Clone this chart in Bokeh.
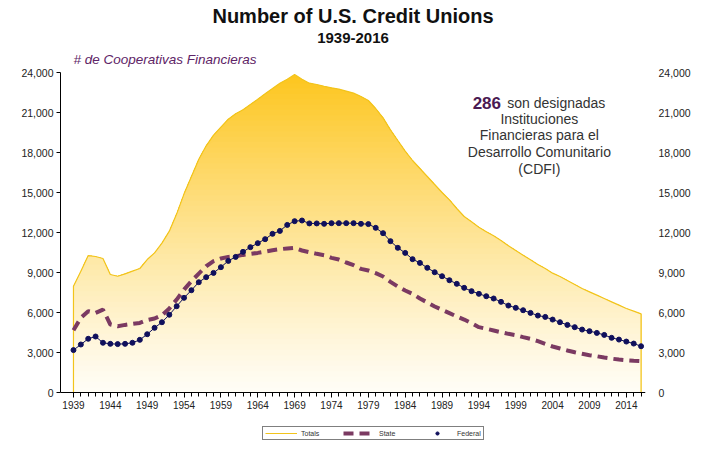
import numpy as np
from bokeh.plotting import figure
from bokeh.models import (Range1d, LinearAxis, FixedTicker, NumeralTickFormatter,
                          Title, Label, Legend, LegendItem)
from bokeh.embed import file_html
from bokeh.resources import INLINE

years = list(range(1939, 2017))

totals = [7970, 9100, 10270, 10200, 10050, 8850, 8720, 8900, 9100, 9300,
          9970, 10470, 11200, 12100, 13400, 14900, 16200, 17500, 18500, 19300,
          19900, 20500, 20900, 21200, 21600, 22000, 22400, 22800, 23200, 23500,
          23850, 23500, 23200, 23100, 22970, 22850, 22750, 22600, 22450, 22200,
          21900, 21300, 20600, 19700, 18900, 18100, 17400, 16800, 16200, 15600,
          15000, 14450, 13800, 13200, 12800, 12400, 12050, 11750, 11400, 11000,
          10650, 10300, 9950, 9600, 9300, 8950, 8700, 8400, 8100, 7800,
          7550, 7300, 7050, 6800, 6550, 6300, 6100, 5900]

state = [4670, 5600, 6100, 5970, 6220, 5100, 4970, 5070, 5150, 5220,
         5430, 5550, 5800, 6300, 6970, 7720, 8350, 8920, 9470, 9850,
         10050, 10170, 10220, 10320, 10400, 10470, 10570, 10670, 10750, 10800,
         10850, 10650, 10520, 10400, 10300, 10100, 9970, 9750, 9550, 9270,
         9150, 8950, 8700, 8300, 7950, 7650, 7400, 7050, 6750, 6450,
         6200, 5950, 5700, 5470, 5200, 4900, 4780, 4650, 4520, 4400,
         4300, 4150, 4020, 3850, 3650, 3450, 3300, 3150, 3020, 2900,
         2800, 2720, 2620, 2540, 2470, 2420, 2380, 2350]

federal = [3180, 3600, 4030, 4200, 3730, 3650, 3630, 3650, 3730, 3950,
           4370, 4850, 5270, 5830, 6470, 7100, 7670, 8270, 8650, 8970,
           9400, 9870, 10170, 10550, 10900, 11200, 11500, 11900, 12120, 12570,
           12850, 12900, 12680, 12680, 12650, 12700, 12700, 12700, 12700, 12650,
           12630, 12350, 11950, 11350, 10850, 10470, 10000, 9720, 9350, 9020,
           8720, 8420, 8150, 7850, 7600, 7400, 7220, 7050, 6800, 6520,
           6350, 6170, 5970, 5770, 5670, 5470, 5270, 5070, 4900, 4720,
           4600, 4470, 4320, 4100, 3970, 3820, 3670, 3470]

x_ticks = [1939, 1944, 1949, 1954, 1959, 1964, 1969, 1974, 1979, 1984,
           1989, 1994, 1999, 2004, 2009, 2014]
y_ticks = [0, 3000, 6000, 9000, 12000, 15000, 18000, 21000, 24000]

title_text = "Number of U.S. Credit Unions"
subtitle_text = "1939-2016"
ylabel_text = "# de Cooperativas Financieras"
note_num = "286"
note_first = "son designadas"
note_lines = ["Instituciones", "Financieras para el", "Desarrollo Comunitario", "(CDFI)"]

FONT = "Liberation Sans"

# the frame reaches below zero so the legend under the axis stays inside it
p = figure(frame_width=585, frame_height=372, output_backend="svg",
           toolbar_location=None,
           x_range=Range1d(1937.24, 2016.6), y_range=Range1d(-3900, 24000),
           min_border_left=60, min_border_right=59, min_border_top=0,
           min_border_bottom=0, outline_line_color=None)
p.grid.visible = False

# titles: p.title outermost; first added sits closest to the plot
p.title.text = title_text
p.title.align = "center"
p.title.text_font = FONT
p.title.text_font_style = "bold"
p.title.text_font_size = "20px"
p.title.text_color = "#111111"
p.title.standoff = 5
p.add_layout(Title(text=ylabel_text, align="left", text_font=FONT,
                   text_font_style="italic", text_font_size="13.5px",
                   text_color="#5e2466", offset=13, standoff=12), "above")
p.add_layout(Title(text=subtitle_text, align="center", text_font=FONT,
                   text_font_style="bold", text_font_size="15px",
                   text_color="#111111", standoff=2), "above")

# gradient fill under totals
yrs = np.array(years, dtype=float)
tot = np.array(totals, dtype=float)
top_c = np.array([253, 197, 28])
bot_c = np.array([255, 253, 246])
N = 60
step = 24000 / N
for k in range(N - 1, -1, -1):
    t = ((k + 0.5) / N) ** 1.15
    c = bot_c + (top_c - bot_c) * t
    col = "#%02x%02x%02x" % tuple(int(round(v)) for v in c)
    p.varea(x=yrs, y1=np.zeros_like(tot), y2=np.minimum(tot, (k + 1) * step),
            fill_color=col, fill_alpha=1.0)

tot_line = p.line([years[0]] + years + [years[-1]], [0] + totals + [0],
                  line_color="#f2c41c", line_width=1.2)

state_line = p.line(years, state, line_color="#7b3a62", line_width=4,
                    line_dash="10 6")

fed_line = p.line(years, federal, line_color="#10105c", line_width=1)
fed_pts = p.scatter(years, federal, size=5, marker="circle",
                    fill_color="#10105c", line_color="#10105c")

# axes
p.xaxis.fixed_location = 0
p.xaxis.ticker = FixedTicker(ticks=x_ticks, minor_ticks=years)
p.xaxis.axis_line_color = "black"
p.xaxis.major_tick_line_color = "black"
p.xaxis.minor_tick_line_color = "black"
p.xaxis.major_tick_out = 5
p.xaxis.major_tick_in = 0
p.xaxis.minor_tick_out = 4
p.xaxis.minor_tick_in = 0
p.xaxis.major_label_standoff = 3
p.xaxis.major_label_text_font = FONT
p.xaxis.major_label_text_font_size = "10px"
p.xaxis.major_label_text_color = "#222222"

p.yaxis.ticker = FixedTicker(ticks=y_ticks)
p.yaxis.bounds = (0, 24000)
p.yaxis.formatter = NumeralTickFormatter(format="0,0")
p.yaxis.axis_line_color = "black"
p.yaxis.major_tick_out = 4
p.yaxis.major_tick_in = 0
p.yaxis.minor_tick_line_color = None
p.yaxis.major_label_standoff = 3
p.yaxis.major_label_text_font = FONT
p.yaxis.major_label_text_font_size = "10.5px"
p.yaxis.major_label_text_color = "#222222"

ry = LinearAxis(ticker=FixedTicker(ticks=y_ticks), bounds=(0, 24000),
                formatter=NumeralTickFormatter(format="0,0"))
ry.axis_line_color = None
ry.major_tick_line_color = None
ry.minor_tick_line_color = None
ry.major_label_standoff = 7
ry.major_label_text_font = FONT
ry.major_label_text_font_size = "10.5px"
ry.major_label_text_color = "#222222"
p.add_layout(ry, "right")

# annotation
p.add_layout(Label(x=1993.15, y=21728, text=note_num, text_font=FONT,
                   text_font_style="bold", text_font_size="17px",
                   text_color="#4a1a52", text_baseline="alphabetic"))
p.add_layout(Label(x=1997.85, y=21728, text=note_first, text_font=FONT,
                   text_font_size="14px", text_color="#333333",
                   text_baseline="alphabetic"))
for i, ln in enumerate(note_lines):
    p.add_layout(Label(x=2002.2, y=20528 - i * 1250, text=ln, text_font=FONT,
                       text_font_size="14px", text_color="#333333",
                       text_align="center", text_baseline="alphabetic"))

legend = Legend(items=[LegendItem(label="Totals", renderers=[tot_line]),
                       LegendItem(label="State", renderers=[state_line]),
                       LegendItem(label="Federal", renderers=[fed_pts])],
                orientation="horizontal", location=(202, 4),
                label_text_font=FONT, label_text_font_size="7px",
                label_text_color="#333333", label_height=8, label_standoff=4,
                glyph_width=32, glyph_height=8, padding=2, spacing=22,
                margin=0, border_line_color="black", border_line_width=1,
                background_fill_alpha=0)
p.add_layout(legend)

open("out.html", "w").write(file_html(p, INLINE))
